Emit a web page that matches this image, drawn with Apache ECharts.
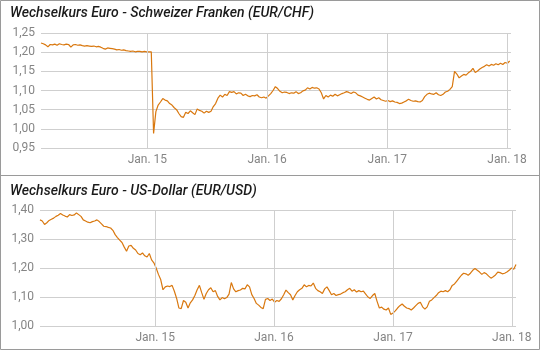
<!DOCTYPE html>
<html>
<head>
<meta charset="utf-8">
<script src="https://cdn.jsdelivr.net/npm/echarts@6/dist/echarts.min.js"></script>
<style>
html,body{margin:0;padding:0;background:#fff;}
#c{width:542px;height:352px;}
</style>
</head>
<body>
<div id="c"></div>
<script>
// ---- Data ----
const chfTitle = 'Wechselkurs Euro - Schweizer Franken (EUR/CHF)';
const usdTitle = 'Wechselkurs Euro - US-Dollar (EUR/USD)';
const yearTicks = ['Jan. 15', 'Jan. 16', 'Jan. 17', 'Jan. 18'];
const yearDates = ['2015-01-01', '2016-01-01', '2017-01-01', '2018-01-01'];

// weekly samples, EUR/CHF starting 2014-02-11
const chfStart = '2014-02-11';
const chfValues = [
1.224,1.222,1.219,1.214,1.220,1.219,1.221,1.218,1.222,1.220,
1.219,1.221,1.220,1.213,1.219,1.220,1.218,1.219,1.217,1.216,
1.217,1.216,1.215,1.216,1.214,1.215,1.213,1.210,1.208,1.211,
1.210,1.209,1.208,1.206,1.207,1.205,1.206,1.204,1.203,1.202,
1.203,1.201,1.202,1.202,1.201,1.202,1.201,1.201,1.201,0.988,
1.045,1.062,1.070,1.079,1.075,1.073,1.066,1.062,1.055,1.050,
1.040,1.032,1.030,1.043,1.040,1.047,1.042,1.037,1.052,1.048,
1.046,1.041,1.046,1.043,1.046,1.058,1.066,1.080,1.088,1.083,
1.090,1.087,1.097,1.095,1.097,1.091,1.094,1.093,1.087,1.090,
1.086,1.084,1.087,1.086,1.089,1.083,1.081,1.083,1.080,1.086,
1.092,1.100,1.110,1.105,1.098,1.094,1.096,1.095,1.092,1.094,
1.093,1.097,1.092,1.094,1.099,1.101,1.107,1.104,1.108,1.106,
1.107,1.104,1.094,1.078,1.087,1.083,1.088,1.085,1.090,1.086,
1.089,1.092,1.094,1.097,1.095,1.092,1.096,1.094,1.088,1.086,
1.083,1.080,1.077,1.075,1.079,1.083,1.078,1.081,1.076,1.074,
1.072,1.074,1.071,1.073,1.070,1.069,1.066,1.067,1.070,1.073,
1.077,1.074,1.072,1.073,1.071,1.070,1.074,1.084,1.090,1.093,
1.091,1.090,1.094,1.089,1.087,1.090,1.096,1.098,1.103,1.110,
1.150,1.143,1.133,1.138,1.142,1.140,1.146,1.150,1.158,1.147,
1.151,1.156,1.160,1.163,1.167,1.164,1.168,1.166,1.170,1.167,
1.171,1.168,1.173,1.171,1.177
];
const chfRange = ['2014-02-11', '2018-01-13'];
const chfTicks = [0.95, 1.00, 1.05, 1.10, 1.15, 1.20, 1.25];

// weekly samples, EUR/USD starting 2014-01-12
const usdStart = '2014-01-12';
const usdValues = [
1.366,1.362,1.350,1.356,1.364,1.368,1.372,1.378,1.382,1.388,
1.383,1.379,1.376,1.384,1.381,1.383,1.390,1.384,1.378,1.366,
1.362,1.358,1.356,1.360,1.362,1.366,1.360,1.352,1.344,1.343,
1.340,1.338,1.330,1.315,1.305,1.296,1.288,1.272,1.258,1.276,
1.278,1.268,1.262,1.250,1.246,1.252,1.242,1.238,1.250,1.228,
1.218,1.200,1.178,1.160,1.125,1.135,1.138,1.136,1.140,1.120,
1.095,1.062,1.060,1.088,1.082,1.062,1.080,1.090,1.105,1.125,
1.140,1.115,1.092,1.112,1.125,1.132,1.118,1.122,1.102,1.090,
1.098,1.094,1.098,1.110,1.150,1.128,1.118,1.122,1.124,1.130,
1.128,1.142,1.135,1.108,1.095,1.078,1.072,1.064,1.060,1.092,
1.095,1.088,1.093,1.082,1.088,1.085,1.094,1.108,1.124,1.115,
1.108,1.090,1.105,1.118,1.125,1.130,1.142,1.135,1.140,1.138,
1.148,1.130,1.122,1.118,1.112,1.128,1.135,1.122,1.108,1.112,
1.105,1.108,1.110,1.115,1.118,1.125,1.130,1.120,1.125,1.117,
1.122,1.118,1.120,1.110,1.100,1.095,1.105,1.112,1.085,1.062,
1.065,1.058,1.055,1.062,1.040,1.045,1.052,1.062,1.070,1.076,
1.068,1.062,1.060,1.055,1.062,1.070,1.078,1.082,1.066,1.058,
1.066,1.085,1.090,1.098,1.105,1.115,1.120,1.118,1.122,1.118,
1.125,1.140,1.145,1.155,1.165,1.175,1.182,1.180,1.175,1.182,
1.192,1.198,1.192,1.186,1.178,1.184,1.180,1.172,1.165,1.170,
1.176,1.186,1.184,1.180,1.182,1.186,1.192,1.200,1.196,1.212
];
const usdRange = ['2014-01-12', '2018-01-14'];
const usdTicks = [1.00, 1.10, 1.20, 1.30, 1.40];

// ---- Build ----
const DAY = 86400000;
const ts = s => new Date(s + 'T00:00:00').getTime();
function weekly(start, values) {
  const t0 = ts(start);
  return values.map((v, i) => [t0 + i * 7 * DAY, v]);
}

const lineColor = '#d9780f';
const gridColor = '#cfcfcf';
const labelColor = '#858585';
const font = 'Roboto';

function xAxis(gridIndex, range) {
  return {
    type: 'time', gridIndex: gridIndex,
    min: ts(range[0]), max: ts(range[1]),
    splitNumber: 4,
    minInterval: 360 * DAY,
    maxInterval: 370 * DAY,
    axisLine: {show: false}, axisTick: {show: false},
    splitLine: {show: false},
    axisLabel: {
      color: labelColor, fontFamily: font, fontSize: 12, margin: 6,
      showMinLabel: false,
      formatter: function (v) {
        const d = new Date(v);
        if (d.getMonth() !== 0 || d.getDate() !== 1) return '';
        const lbl = 'Jan. ' + String(d.getFullYear()).slice(2);
        return yearTicks.indexOf(lbl) >= 0 ? lbl : '';
      }
    }
  };
}
function yAxis(gridIndex, ticks) {
  return {
    type: 'value', gridIndex: gridIndex,
    min: ticks[0], max: ticks[ticks.length - 1],
    interval: +(ticks[1] - ticks[0]).toFixed(2),
    axisLine: {show: false}, axisTick: {show: false},
    splitLine: {show: true, lineStyle: {color: gridColor, width: 1}},
    axisLabel: {
      color: labelColor, fontFamily: font, fontSize: 12, margin: 6,
      formatter: v => v.toFixed(2).replace('.', ',')
    }
  };
}
const yearLines = {
  silent: true, symbol: 'none', animation: false,
  label: {show: false},
  lineStyle: {color: gridColor, width: 1, type: 'solid'},
  emphasis: {disabled: true},
  data: yearDates.map(d => ({xAxis: ts(d)}))
};

const chart = echarts.init(document.getElementById('c'), null, {renderer: 'canvas'});
chart.setOption({
  animation: false,
  backgroundColor: '#fff',
  title: [
    {text: chfTitle, left: 10, top: 6, padding: 0,
     textStyle: {fontFamily: font, fontStyle: 'italic', fontWeight: 500, fontSize: 14, color: '#1a1a1a'}},
    {text: usdTitle, left: 10, top: 184, padding: 0,
     textStyle: {fontFamily: font, fontStyle: 'italic', fontWeight: 500, fontSize: 14, color: '#1a1a1a'}}
  ],
  grid: [
    {left: 41, right: 31, top: 33, height: 115},
    {left: 40, right: 26, top: 210, height: 116}
  ],
  xAxis: [xAxis(0, chfRange), xAxis(1, usdRange)],
  yAxis: [yAxis(0, chfTicks), yAxis(1, usdTicks)],
  series: [
    {type: 'line', xAxisIndex: 0, yAxisIndex: 0, data: weekly(chfStart, chfValues),
     showSymbol: false, lineStyle: {color: lineColor, width: 1.2}, silent: true,
     markLine: yearLines, z: 3},
    {type: 'line', xAxisIndex: 1, yAxisIndex: 1, data: weekly(usdStart, usdValues),
     showSymbol: false, lineStyle: {color: lineColor, width: 1.2}, silent: true,
     markLine: yearLines, z: 3}
  ],
  graphic: [
    {type: 'rect', shape: {x: 0.5, y: 0.5, width: 539, height: 349},
     style: {fill: null, stroke: '#9a9a9a', lineWidth: 1}, silent: true, z: 100},
    {type: 'line', shape: {x1: 0, y1: 175.5, x2: 540, y2: 175.5},
     style: {stroke: '#9a9a9a', lineWidth: 1}, silent: true, z: 100}
  ]
});
</script>
</body>
</html>
